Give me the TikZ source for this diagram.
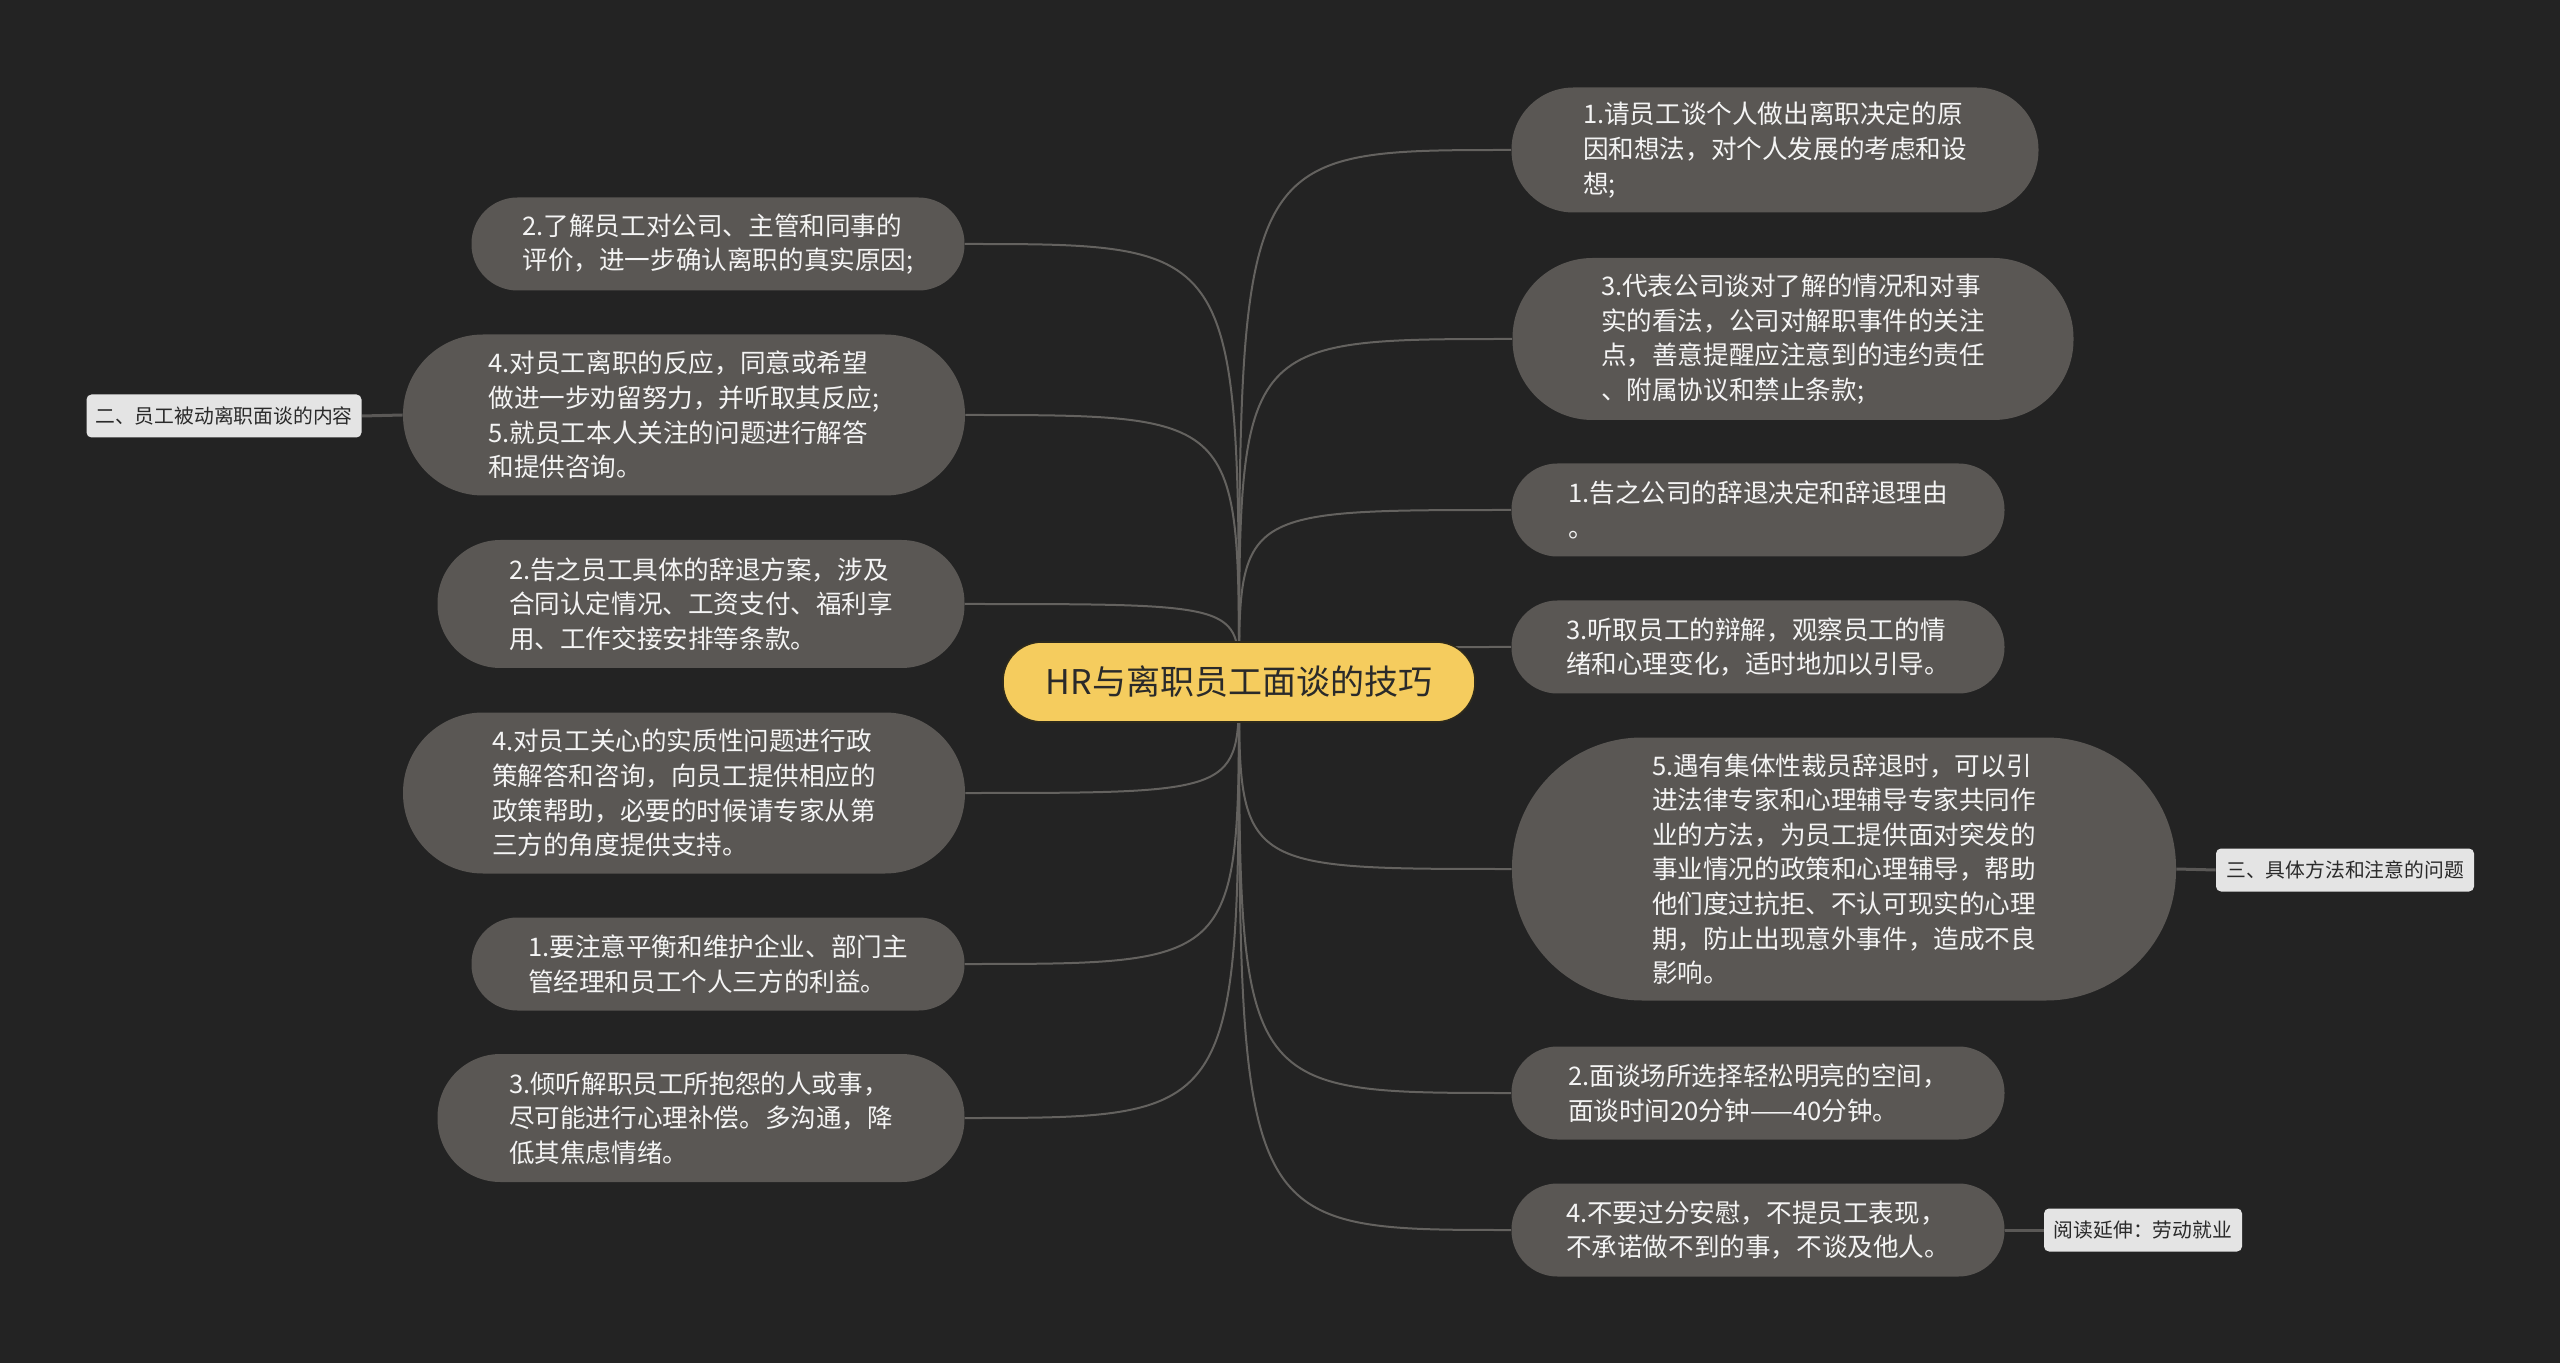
\documentclass[tikz,border=0pt]{standalone}
\usepackage{fontspec}
\setmainfont{Noto Sans CJK SC}
\usetikzlibrary{calc}
\definecolor{bgc}{HTML}{232323}
\definecolor{nodec}{HTML}{5A5754}
\definecolor{rootc}{HTML}{F5CC5E}
\definecolor{rootb}{HTML}{2E2A1C}
\definecolor{labc}{HTML}{E4E4E4}
\definecolor{linec}{HTML}{64625F}
\definecolor{txtw}{HTML}{F4F4F4}
\definecolor{txtd}{HTML}{2A2A2A}
\pgfdeclarelayer{back}
\pgfdeclarelayer{lines}
\pgfsetlayers{back,lines,main}
\tikzset{
  topic/.style={rectangle, fill=nodec, text=txtw, align=left, inner sep=0pt,
    font=\fontsize{12.8}{17.3}\selectfont},
  short/.style={topic, minimum width=246.5pt, minimum height=46.5pt, rounded corners=23pt},
  rootnode/.style={rectangle, fill=rootc, draw=rootb, line width=0.8pt, text=txtd,
    minimum width=236pt, minimum height=40pt, rounded corners=19.5pt, inner sep=0pt,
    font=\fontsize{17}{20}\selectfont},
  labnode/.style={rectangle, fill=labc, text=txtd, minimum height=21.5pt, rounded corners=2.5pt,
    inner sep=0pt, font=\fontsize{9.9}{12}\selectfont},
  conn/.style={draw=linec, line width=1pt},
  lconn/.style={draw=linec!90!black, line width=1.5pt}
}
\begin{document}
\begin{tikzpicture}[x=0.5pt,y=-0.5pt]
\begin{pgfonlayer}{back}
\fill[bgc] (0,0) rectangle (2560,1363);
\end{pgfonlayer}
\useasboundingbox (0,0) rectangle (2560,1363);

\node[rootnode] (root) at (1239,682) {HR与离职员工面谈的技巧};

% left side
\node[short] (L1) at (718,244) {2.了解员工对公司、主管和同事的\\评价，进一步确认离职的真实原因;};
\node[topic, minimum width=281pt, minimum height=80.5pt, rounded corners=40pt] (L2) at (684,415)
  {4.对员工离职的反应，同意或希望\\做进一步劝留努力，并听取其反应;\\5.就员工本人关注的问题进行解答\\和提供咨询。};
\node[topic, minimum width=263.5pt, minimum height=64pt, rounded corners=31.5pt] (L3) at (701,604)
  {2.告之员工具体的辞退方案，涉及\\合同认定情况、工资支付、福利享\\用、工作交接安排等条款。};
\node[topic, minimum width=281pt, minimum height=80.5pt, rounded corners=40pt] (L4) at (684,793)
  {4.对员工关心的实质性问题进行政\\策解答和咨询，向员工提供相应的\\政策帮助，必要的时候请专家从第\\三方的角度提供支持。};
\node[short] (L5) at (718,964) {1.要注意平衡和维护企业、部门主\\管经理和员工个人三方的利益。};
\node[topic, minimum width=263.5pt, minimum height=64pt, rounded corners=31.5pt] (L6) at (701,1118)
  {3.倾听解职员工所抱怨的人或事，\\尽可能进行心理补偿。多沟通，降\\低其焦虑情绪。};

% right side
\node[topic, minimum width=263.5pt, minimum height=62.5pt, rounded corners=31pt] (R1) at (1775,150)
  {1.请员工谈个人做出离职决定的原\\因和想法，对个人发展的考虑和设\\想;};
\node[topic, minimum width=280.5pt, minimum height=81pt, rounded corners=40pt] (R2) at (1793,339)
  {3.代表公司谈对了解的情况和对事\\实的看法，公司对解职事件的关注\\点，善意提醒应注意到的违约责任\\、附属协议和禁止条款;};
\node[short] (R3) at (1758,510) {1.告之公司的辞退决定和辞退理由\\。};
\node[short] (R4) at (1758,647) {3.听取员工的辩解，观察员工的情\\绪和心理变化，适时地加以引导。};
\node[topic, minimum width=332pt, minimum height=131.5pt, rounded corners=65pt] (R5) at (1844,869)
  {5.遇有集体性裁员辞退时，可以引\\进法律专家和心理辅导专家共同作\\业的方法，为员工提供面对突发的\\事业情况的政策和心理辅导，帮助\\他们度过抗拒、不认可现实的心理\\期，防止出现意外事件，造成不良\\影响。};
\node[short] (R6) at (1758,1093) {2.面谈场所选择轻松明亮的空间，\\面谈时间20分钟——40分钟。};
\node[short] (R7) at (1758,1230) {4.不要过分安慰，不提员工表现，\\不承诺做不到的事，不谈及他人。};

% labels
\node[labnode, minimum width=137.5pt] (LL) at (224,416) {二、员工被动离职面谈的内容};
\node[labnode, minimum width=129pt] (LR5) at (2345,870) {三、具体方法和注意的问题};
\node[labnode, minimum width=99pt] (LR7) at (2143,1230) {阅读延伸：劳动就业};

\begin{pgfonlayer}{lines}
\foreach \n in {R1,R2,R3,R4,R5,R6,R7}
  \draw[conn] (root.center) .. controls (root.center |- \n.west) .. (\n.west);
\foreach \n in {L1,L2,L3,L4,L5,L6}
  \draw[conn] (root.center) .. controls (root.center |- \n.east) .. (\n.east);
\draw[lconn] (L2.west) -- (LL.east);
\draw[lconn] (R5.east) -- (LR5.west);
\draw[lconn] (R7.east) -- (LR7.west);
\end{pgfonlayer}
\end{tikzpicture}
\end{document}
